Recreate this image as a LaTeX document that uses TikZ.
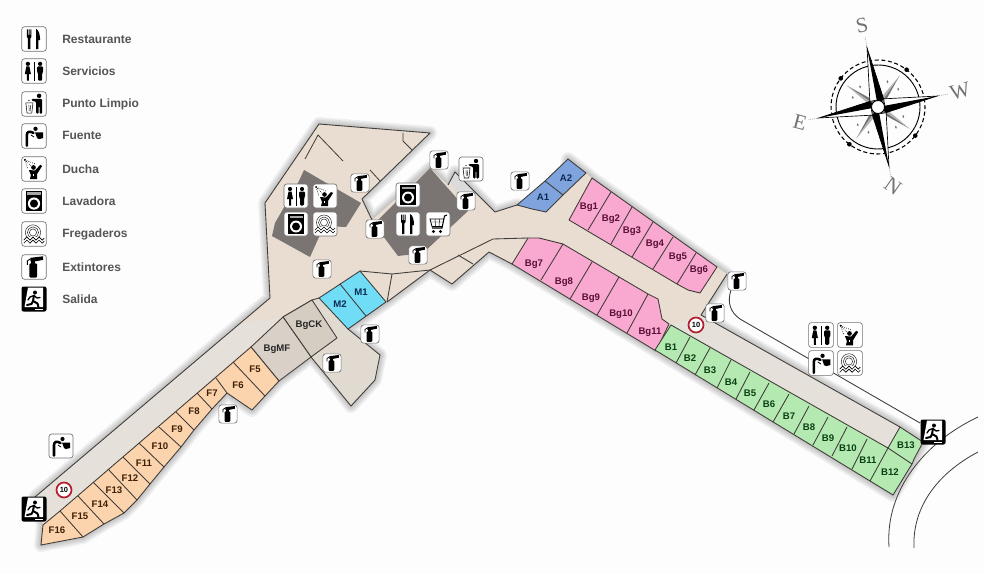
\documentclass[tikz,border=0pt]{standalone}
\usepackage{fontspec}
\setmainfont{Liberation Sans}
\newfontfamily\serifcomp{Liberation Serif}
\definecolor{paper}{HTML}{FDFDFD}
\definecolor{floorc}{HTML}{E8DDD0}
\definecolor{corrc}{HTML}{E5E0D9}
\definecolor{southc}{HTML}{E1DAD1}
\definecolor{mfc}{HTML}{D9D1C7}
\definecolor{ckc}{HTML}{D5CCC2}
\definecolor{fc}{HTML}{FBD3AD}
\definecolor{bgc}{HTML}{F9A9CF}
\definecolor{bc}{HTML}{B4EAB2}
\definecolor{mc}{HTML}{70DCF6}
\definecolor{ac}{HTML}{7FA3DC}
\definecolor{blockc}{HTML}{7A7573}
\definecolor{edgec}{HTML}{3F3C39}
\definecolor{legtxt}{HTML}{555555}
\definecolor{redring}{HTML}{B01E30}
\definecolor{bgtxt}{HTML}{5A0F38}
\definecolor{ftxt}{HTML}{3F1F05}
\definecolor{gtxt}{HTML}{0A3F12}
\definecolor{ntxt}{HTML}{0B2B55}
\tikzset{
  x=0.75pt,y=-0.75pt,
  plan/.style={draw=edgec,line width=0.65pt,line join=round},
  thinline/.style={draw=edgec,line width=0.6pt},
  stall/.style={font=\bfseries\fontsize{7.2}{8}\selectfont,inner sep=0pt},
  legendtxt/.style={font=\bfseries\fontsize{9}{10}\selectfont,text=legtxt,anchor=west,inner sep=0pt},
  halo/.style={draw=black,draw opacity=0.05,line join=round},
  iconbox/.style={fill=white,draw=black!55,line width=0.5pt,rounded corners=2pt},
  limit/.style={circle,draw=redring,line width=1.3pt,fill=white,minimum size=15pt*0.75,inner sep=0pt,font=\bfseries\fontsize{5.6}{6}\selectfont},
  complet/.style={font=\serifcomp\fontsize{16}{16}\selectfont,text=black!55,inner sep=0pt},
  iconext/.pic={
    \draw[iconbox] (-12,-12) rectangle (12,12);
    \fill[black,rounded corners=0.8pt] (-4.5,-3.5) rectangle (3,10.5);
    \fill (-2.5,-6) rectangle (1,-2);
    \fill (-3.5,-9) -- (9,-10.5) -- (9,-7) -- (1.5,-5.5) -- (-3.5,-5.5) -- cycle;
    \draw[line width=0.6pt] (-3.5,-8) -- (-6.5,-6) -- (-6.5,-2);
  },
  iconfork/.pic={
    \draw[iconbox] (-12,-12) rectangle (12,12);
    \fill (-7,-9.5) -- (-6,-9.5) -- (-6,-4) -- (-5.2,-4) -- (-5.2,-9.5) -- (-4.3,-9.5) -- (-4.3,-4) -- (-3.5,-4) -- (-3.5,-9.5) -- (-2.5,-9.5) -- (-2.5,-2) -- (-3.6,-0.5) -- (-3.6,10) -- (-5.9,10) -- (-5.9,-0.5) -- (-7,-2) -- cycle;
    \fill (2,10) -- (2,-10) .. controls (5,-9) and (6,-3) .. (6,1) -- (4.4,1) -- (4.4,10) -- cycle;
  },
  iconwc/.pic={
    \draw[iconbox] (-12,-12) rectangle (12,12);
    \fill (-6,-7) circle (2.1);
    \fill (-7.5,-4.5) -- (-4.5,-4.5) -- (-3,3) -- (-5,3) -- (-5,9.5) -- (-7,9.5) -- (-7,3) -- (-9,3) -- cycle;
    \fill (6,-7) circle (2.1);
    \fill[rounded corners=0.8pt] (3,-4.5) -- (9,-4.5) -- (9,1.5) -- (8,1.5) -- (8,9.5) -- (4,9.5) -- (4,1.5) -- (3,1.5) -- cycle;
    \fill (-0.4,-9) rectangle (0.4,9.5);
  },
  iconbin/.pic={
    \draw[iconbox] (-12,-12) rectangle (12,12);
    \fill (5,-8) circle (2.2);
    \fill[rounded corners=0.8pt] (2,-5) -- (8,-5) -- (8,9.5) -- (5.4,9.5) -- (5.4,2) -- (4.6,2) -- (4.6,9.5) -- (2.2,9.5) -- (2.2,-2) -- (-2.5,-3.5) -- (-2.2,-5) -- cycle;
    \draw[line width=0.4pt] (-8,-1) -- (-6.8,9) -- (-2.2,9) -- (-1,-1) -- cycle;
    \draw[line width=0.3pt] (-5,1) -- (-4.7,7) (-3.2,1) -- (-3.5,7);
    \fill (-5,-3.5) circle (0.7);
  },
  iconfountain/.pic={
    \draw[iconbox] (-12,-12) rectangle (12,12);
    \draw[line width=1.9pt,line cap=round] (-7,9.5) -- (-7,-1) .. controls (-7,-4.5) and (-4,-5) .. (-0.5,-3);
    \fill (1.5,-7) circle (2.1);
    \fill (1,-3.5) -- (9,-3.5) -- (9,2) -- (5,3) -- (3,2) -- cycle;
    \draw[line width=0.6pt] (-3,-1) -- (0,1);
  },
  iconshower/.pic={
    \draw[iconbox] (-12,-12) rectangle (12,12);
    \fill (-0.5,-1.5) circle (2.3);
    \fill (-5,1) -- (1,1.5) -- (6,-4) -- (8,-3) -- (3,5) -- (3,10) -- (-4,10) -- (-3,6) -- cycle;
    \fill[white] (-1.2,5) rectangle (0.3,7);
    \draw[line width=0.5pt,densely dotted] (-9,-9) -- (-3,-3) (-9,-9) -- (1,-5) (-9,-9) -- (-6,0);
    \fill (-9,-9) circle (1);
  },
  iconwasher/.pic={
    \draw[iconbox] (-12,-12) rectangle (12,12);
    \fill (-8,-10) rectangle (8,10);
    \fill[black!35] (-6.5,-8.5) rectangle (6.5,-6);
    \fill[white] (0,2.5) circle (6);
    \fill (0,2.5) circle (4);
  },
  icondishes/.pic={
    \draw[iconbox] (-12,-12) rectangle (12,12);
    \draw[line width=0.4pt,black!80] (-1,-1.5) circle (7.5) (-1,-1.5) circle (5.5) (-1,-1.5) circle (3.5);
    \fill[white] (-11,3) rectangle (11,7);
    \draw[line width=0.5pt,black] (-10,6) -- (-7,3) -- (-4,6) -- (-1,3) -- (2,6) -- (5,3) -- (8,6) -- (10,4);
    \draw[line width=0.5pt,black] (-10,9) -- (-7,6) -- (-4,9) -- (-1,6) -- (2,9) -- (5,6) -- (8,9) -- (10,7);
  },
  iconcart/.pic={
    \draw[iconbox] (-12,-12) rectangle (12,12);
    \draw[line width=0.8pt] (9,-9) -- (6.5,-8) -- (4,4) -- (-6,4);
    \draw[line width=0.6pt] (6,-5) -- (-8,-5) -- (-6,2.5) -- (4.5,2.5);
    \draw[line width=0.35pt] (-3,-5) -- (-2.5,2.5) (1.5,-5) -- (1,2.5) (-7,-2) -- (5,-2);
    \fill (-4.5,7.5) circle (1.6) (2.5,7.5) circle (1.6);
  },
  iconexit/.pic={
    \fill[black,rounded corners=1.5pt] (-12.5,-12.5) rectangle (12.5,12.5);
    \fill[white] (-6,-11.5) -- (9,-11.5) -- (9,8) -- (-9.5,8) -- cycle;
    \fill (1,-6.5) circle (2);
    \draw[line width=1.5pt,line cap=round,line join=round] (0,-3.5) -- (-1,2) -- (3.5,4.5) -- (4.5,8);
    \draw[line width=1.5pt,line cap=round,line join=round] (-1,2) -- (-2.5,5) -- (-7,6);
    \draw[line width=1pt,line cap=round,line join=round] (0,-3.5) -- (-4,-2) -- (-6,1);
    \draw[line width=1pt,line cap=round,line join=round] (0,-3.5) -- (3,-1) -- (6,-1.5);
    \fill[white] (1,9.5) rectangle (9,11);
  },
}
\begin{document}
\begin{tikzpicture}
\useasboundingbox (0,0) rectangle (984,574);
\fill[paper] (0,0) rectangle (984,574);

% soft halo round the floor
\def\floorpath{(319,124) -- (430,133) -- (362,199) -- (372,220) -- (430,168) -- (448,185) -- (455,172) -- (495,212) -- (517,205) -- (532,209) -- (546,212) -- (563,195) -- (568,159) -- (586,173) -- (592,178) -- (717,267) -- (727,274) -- (701,315) -- (900,427) -- (923,442) -- (912,464) -- (893,495) -- (656,351) -- (512,264) -- (489,252) -- (452,284) -- (430,270) -- (387,302) -- (348,329) -- (380,355) -- (375,380) -- (351,406) -- (323,370) -- (311,357) -- (279,381) -- (265,396) -- (252,410) -- (227,393) -- (212,409) -- (194,430) -- (181,447) -- (164,467) -- (150,484) -- (137,500) -- (124,513) -- (104,524) -- (83,537) -- (41,545) -- (43,525) -- (35,497) -- (270,298) -- (265,203) -- cycle}
\foreach \w in {14,11,8,5,2}{\draw[halo,line width=\w*0.75pt] \floorpath;}
\fill[floorc] \floorpath;

% paler corridors and rooms
\fill[corrc] (35,497) -- (240,323) -- (283,317) -- (60,511) -- (43,525) -- cycle;
\fill[corrc] (671,325) -- (701,315) -- (900,427) -- (888,448) -- cycle;
\fill[southc] (312,300) -- (319,298) -- (348,329) -- (380,355) -- (375,380) -- (351,406) -- (323,370) -- (311,357) -- (337,338) -- cycle;
\fill[black!14] (450,182) -- (455,172) -- (472,190) -- (462,200) -- cycle;

% grey blocks
\fill[blockc] (304,170) -- (361,203) -- (346,227) -- (324,226) -- (310,257) -- (272,236) -- (275,223) -- (298,183) -- cycle;
\fill[blockc] (430,168) -- (468,211) -- (423,253) -- (398,256) -- (374,224) -- cycle;

% building outlines
\draw[plan] (35,497) -- (270,298) -- (265,203) -- (319,124) -- (430,133) -- (362,199) -- (372,220);
\draw[plan] (448,185) -- (455,172) -- (495,212) -- (517,205);
\draw[plan] (528,238) -- (493,239) -- (430,270) -- (392,274) -- (360,271);
\draw[plan] (392,274) -- (387,302);
\draw[plan] (512,264) -- (489,252) -- (452,284) -- (430,270) -- (387,302);
\draw[plan] (458,255) -- (473,264);
\draw[plan] (727,274) -- (701,315) -- (900,427);
\draw[plan] (283,317) -- (312,300) -- (319,298);
\draw[plan] (348,329) -- (380,355) -- (375,380) -- (351,406) -- (311,357);
% inner walls
\draw[thinline] (305,159) -- (318,135) -- (343,161);
\draw[thinline] (370,170) -- (380,181);
\draw[thinline] (403,133) -- (403,141) -- (412,150);
% outer walkway and road
\draw[plan] (731,290) .. controls (727,302) and (730,312) .. (740,319) -- (920,423);
\draw[plan,line width=0.6pt] (978,417) .. controls (925,442) and (885,490) .. (889,547);
\draw[plan,line width=0.6pt] (978,452) .. controls (940,472) and (912,505) .. (914,548);

% A
\draw[plan,fill=ac] (568,159) -- (586,173) -- (563,195) -- (546,212) -- (532,209) -- (517,205) -- (545,181) -- cycle;
\draw[plan] (545,181) -- (563,195);
% Bg1-6
\draw[plan,fill=bgc] (592,178) -- (717,267) -- (700,293) -- (688,290) -- (677,284) -- (569,220) -- cycle;
\draw[plan] (611,192) -- (588,230) (632,207) -- (611,244) (653,222) -- (632,257) (673,237) -- (653,269) (696,253) -- (677,284);
% Bg7-11
\draw[plan,fill=bgc] (528,238) -- (539,238) -- (563,244) -- (648,294) -- (658,299) -- (662,319) -- (669,324) -- (656,351) -- (512,264) -- cycle;
\draw[plan] (563,244) -- (541,280) (592,262) -- (570,299) (619,277) -- (597,315) (648,294) -- (627,333);
% M
\draw[plan,fill=mc] (360,271) -- (386,302) -- (348,329) -- (319,298) -- cycle;
\draw[plan] (340,284) -- (366,316);
% Bg CK / MF
\draw[plan,fill=ckc] (312,300) -- (337,338) -- (311,357) -- (283,317) -- cycle;
\draw[plan,fill=mfc] (283,317) -- (311,357) -- (279,381) -- (251,347) -- cycle;
% F
\draw[plan,fill=fc] (251,347) -- (279,381) -- (265,396) -- (252,410) -- (227,393) -- (212,409) -- (194,430) -- (181,447) -- (164,467) -- (150,484) -- (137,500) -- (124,513) -- (104,524) -- (83,537) -- (41,545) -- (43,525) -- (60,511) -- cycle;
\draw[plan] (233,362) -- (265,396) (216,378) -- (227,393) (197,393) -- (212,409) (176,412) -- (194,430) (159,427) -- (181,447) (139,443) -- (164,467) (123,457) -- (150,484) (108,469) -- (137,500) (93,482) -- (124,513) (78,496) -- (104,524) (60,511) -- (83,537);
% B
\draw[plan,fill=bc] (671,325) -- (888,448) -- (900,427) -- (923,442) .. controls (918,452) and (914,458) .. (912,464) -- (893,495) -- (655,350) -- cycle;
\draw[plan] (690,337) -- (676,363) (710,348) -- (695,375) (731,360) -- (717,388) (750,372) -- (736,399) (769,383) -- (754,410) (789,394) -- (773,422) (809,406) -- (794,434) (828,417) -- (813,445) (847,427) -- (832,456) (867,439) -- (852,469) (888,448) -- (870,481) (888,448) -- (912,464);

% stall labels
\foreach \t/\px/\py in {Bg1/589/207,Bg2/611/219,Bg3/632/231,Bg4/655/244,Bg5/678/257,Bg6/699/270,Bg7/534/264,Bg8/564/282,Bg9/591/298,Bg10/621/314,Bg11/650/332}
  \node[stall,text=bgtxt] (\t) at (\px,\py) {\t};
\foreach \t/\px/\py in {A1/543/197,A2/566/178,M1/361/292,M2/340/304}
  \node[stall,text=ntxt] (\t) at (\px,\py) {\t};
\foreach \t/\px/\py in {BgCK/309/325,BgMF/277/349}
  \node[stall,text=black!85] (\t) at (\px,\py) {\t};
\foreach \t/\px/\py in {F5/255/369,F6/238/385,F7/212/393,F8/194/411,F9/177/429,F10/160/446,F11/144/463,F12/130/478,F13/114/490,F14/100/504,F15/80/516,F16/57/530}
  \node[stall,text=ftxt] (\t) at (\px,\py) {\t};
\foreach \t/\px/\py in {B1/671/347,B2/690/358,B3/710/370,B4/731/382,B5/750/393,B6/769/404,B7/789/416,B8/809/427,B9/828/438,B10/848/448,B11/868/460,B12/890/472,B13/906/445}
  \node[stall,text=gtxt] (\t) at (\px,\py) {\t};

% legend
\pic[scale=1.02] at (34,39) {iconfork};
\pic[scale=1.02] at (34,71) {iconwc};
\pic[scale=1.02] at (34,104) {iconbin};
\pic[scale=1.02] at (34,136) {iconfountain};
\pic[scale=1.02] at (34,169) {iconshower};
\pic[scale=1.02] at (34,201) {iconwasher};
\pic[scale=1.02] at (34,234) {icondishes};
\pic[scale=1.02] at (34,267) {iconext};
\pic[scale=1] at (34,299) {iconexit};
\node[legendtxt] (lg1) at (62,39) {Restaurante};
\node[legendtxt] (lg2) at (62,71.5) {Servicios};
\node[legendtxt] (lg3) at (62,104) {Punto Limpio};
\node[legendtxt] (lg4) at (62,135.5) {Fuente};
\node[legendtxt] (lg5) at (62,169) {Ducha};
\node[legendtxt] (lg6) at (62,201.5) {Lavadora};
\node[legendtxt] (lg7) at (62,234.5) {Fregaderos};
\node[legendtxt] (lg8) at (62,267) {Extintores};
\node[legendtxt] (lg9) at (62,299.5) {Salida};

% icons on the map
\foreach \px/\py in {360/183,439/160,466/201,375/229,418/255,322/269,520/181,737/281,715/313,370/334,332/363,228/414}
  \pic[scale=0.76] at (\px,\py) {iconext};
\pic at (471,169) {iconbin};
\pic at (296,196) {iconwc};
\pic at (325,196) {iconshower};
\pic at (296,224) {iconwasher};
\pic at (325,224) {icondishes};
\pic at (408,195) {iconwasher};
\pic at (408,224) {iconfork};
\pic at (438,224) {iconcart};
\pic[scale=1.03] at (821,335) {iconwc};
\pic[scale=1.03] at (850,335) {iconshower};
\pic[scale=1.03] at (821,363) {iconfountain};
\pic[scale=1.03] at (850,363) {icondishes};
\pic at (61,446) {iconfountain};
\pic at (34,509) {iconexit};
\pic at (933,432) {iconexit};
\node[limit] (lim1) at (64,490) {10};
\node[limit] (lim2) at (696,325) {10};

% compass
\begin{scope}[shift={(878,107)},rotate=10.5]
  \draw[line width=0.8pt,densely dashed] (0,0) circle (47);
  \draw[line width=0.7pt] (0,0) circle (42);
  \foreach \r in {45,135,225,315}{
    \fill[black] (\r+3:47) circle (2.3);
    \fill[black!55] (\r:38) -- (\r+22:8) -- (0,0) -- cycle;
    \fill[black!30] (\r:38) -- (\r-22:8) -- (0,0) -- cycle;
    \fill[black!55] (\r+14:27) circle (0.9 and 1.6);
    \fill[black!55] (\r-14:27) circle (0.9 and 1.6);
  }
  \draw[line width=0.5pt,densely dotted,black!50] (0,-60) -- (0,-72) (60,0) -- (72,0) (0,60) -- (0,72) (-60,0) -- (-72,0);
  % white halves
  \draw[fill=white,line width=0.5pt] (0,-60) -- (-7,-7) -- (7,-7) -- cycle;
  \draw[fill=white,line width=0.5pt] (60,0) -- (7,-7) -- (7,7) -- cycle;
  \draw[fill=white,line width=0.5pt] (0,60) -- (-7,7) -- (7,7) -- cycle;
  \draw[fill=white,line width=0.5pt] (-60,0) -- (-7,-7) -- (-7,7) -- cycle;
  % black halves
  \fill[black] (0,-60) -- (7,-7) -- (0,0) -- cycle;
  \fill[black] (60,0) -- (7,7) -- (0,0) -- cycle;
  \fill[black] (0,60) -- (-7,7) -- (0,0) -- cycle;
  \fill[black] (-60,0) -- (-7,-7) -- (0,0) -- cycle;
  \draw[fill=white,line width=0.6pt] (0,0) circle (6.5);
\end{scope}
\node[complet,rotate=12] (cS) at (862,25) {S};
\node[complet,rotate=15] (cW) at (960,91) {W};
\node[complet,rotate=-35] (cN) at (893,186) {N};
\node[complet,rotate=-15] (cE) at (800,122) {E};
\end{tikzpicture}
\end{document}
